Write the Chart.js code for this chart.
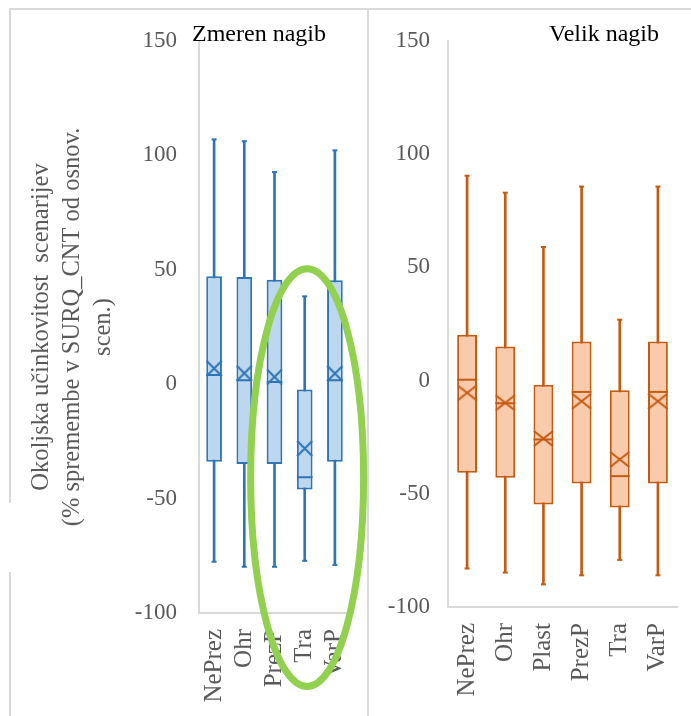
<!DOCTYPE html>
<html><head><meta charset="utf-8">
<script src="https://cdn.jsdelivr.net/npm/chart.js@4.4.1/dist/chart.umd.min.js"></script>
<style>
html,body{margin:0;padding:0;background:#fff;width:691px;height:716px;overflow:hidden;}
#wrap{position:relative;width:691px;height:716px;}
.ln{position:absolute;background:#d9d9d9;}
canvas{position:absolute;top:0;}
</style></head><body>
<div id="wrap">
<div class="ln" style="left:10px;top:8px;width:681px;height:2px"></div>
<div class="ln" style="left:9px;top:8px;width:2px;height:495px"></div>
<div class="ln" style="left:9px;top:572px;width:2px;height:144px"></div>
<div class="ln" style="left:367px;top:8px;width:2px;height:708px"></div>
<canvas id="c1" width="372" height="716" style="left:0"></canvas>
<canvas id="c2" width="323" height="716" style="left:368px"></canvas>
</div>
<script>
// ---- data: Zmeren nagib ----
const leftTitle = 'Zmeren nagib';
const leftCategories = ['NePrez', 'Ohr', 'PrezP', 'Tra', 'VarP'];
const leftMin    = [-77.6, -79.8, -79.8, -77.2, -79.0];
const leftQ1     = [-33.9, -34.9, -34.9, -46.0, -33.9];
const leftMedian = [4.0, 1.7, 1.0, -40.7, 1.7];
const leftMean   = [6.9, 4.8, 3.2, -28.1, 4.7];
const leftQ3     = [47.2, 46.9, 45.7, -2.3, 45.4];
const leftMax    = [107.0, 106.2, 92.7, 38.4, 102.2];

// ---- data: Velik nagib ----
const rightTitle = 'Velik nagib';
const rightCategories = ['NePrez', 'Ohr', 'Plast', 'PrezP', 'Tra', 'VarP'];
const rightMin    = [-83.0, -84.8, -90.0, -86.0, -79.2, -86.0];
const rightQ1     = [-40.7, -42.9, -54.7, -45.4, -56.1, -45.4];
const rightMedian = [0.4, -10.0, -26.0, -5.0, -42.2, -5.0];
const rightMean   = [-5.4, -9.8, -25.6, -9.1, -34.8, -9.1];
const rightQ3     = [20.3, 15.1, -1.8, 17.3, -4.3, 17.3];
const rightMax    = [90.5, 83.0, 59.0, 85.7, 26.9, 85.7];

// ---- axis ----
const yTicks = [-100, -50, 0, 50, 100, 150];
const yMin = -100, yMax = 150, yStep = 50;
const yAxisTitle = ['Okoljska učinkovitost  scenarijev', '(% spremembe v SURQ_CNT od osnov.', 'scen.)'];

// annotation ellipse around "Tra" (category index / value units)
const ellipseCenterCat = 3.08, ellipseCenterVal = -40.8, ellipseHalfCats = 1.87, ellipseHalfVal = 91.3;

const SERIF = '"Liberation Serif", "Times New Roman", serif';
const GRAY = '#595959';

function markerX(w, h, color) {
  const c = document.createElement('canvas');
  c.width = w + 2; c.height = h + 2;
  const g = c.getContext('2d');
  g.strokeStyle = color; g.lineWidth = 2;
  g.beginPath();
  g.moveTo(1, 1); g.lineTo(w + 1, h + 1);
  g.moveTo(w + 1, 1); g.lineTo(1, h + 1);
  g.stroke();
  return c;
}

const annot = {
  id: 'annot',
  afterDraw(chart, args, opts) {
    const ctx = chart.ctx;
    ctx.save();
    ctx.font = '24px ' + SERIF;
    ctx.fillStyle = '#000';
    ctx.textBaseline = 'middle';
    ctx.textAlign = 'left';
    ctx.fillText(opts.title, opts.titleX, opts.titleY);
    if (opts.ellipse) {
      const xs = chart.scales.x, ys = chart.scales.y;
      const cx = xs.getPixelForValue(ellipseCenterCat);
      const rx = xs.getPixelForValue(ellipseCenterCat + ellipseHalfCats) - cx;
      const cy = ys.getPixelForValue(ellipseCenterVal);
      const ry = ys.getPixelForValue(ellipseCenterVal - ellipseHalfVal) - cy;
      ctx.strokeStyle = '#92D050';
      ctx.lineWidth = 7;
      ctx.beginPath();
      ctx.ellipse(cx, cy, rx, ry, 0, 0, Math.PI * 2);
      ctx.stroke();
    }
    ctx.restore();
  }
};

function makeChart(id, s) {
  const edge = s.edge, fill = s.fill;
  return new Chart(document.getElementById(id), {
    type: 'bar',
    data: {
      labels: s.cats,
      datasets: [
        { type: 'bar', data: s.q1.map((v, i) => [v, s.q3[i]]), backgroundColor: fill, borderColor: edge,
          borderWidth: 2, borderSkipped: false, barPercentage: 0.52, categoryPercentage: 1, grouped: false, order: 2 },
        { type: 'bar', data: s.min.map((v, i) => [v, s.max[i]]), backgroundColor: edge, borderWidth: 0,
          barThickness: 2, grouped: false, order: 3 },
        { type: 'line', data: s.max, showLine: false, borderColor: edge, pointStyle: 'line', pointRadius: 2.5,
          pointBorderWidth: 2, pointBorderColor: edge, order: 1 },
        { type: 'line', data: s.min, showLine: false, borderColor: edge, pointStyle: 'line', pointRadius: 2.5,
          pointBorderWidth: 2, pointBorderColor: edge, order: 1 },
        { type: 'line', data: s.median, showLine: false, borderColor: edge, pointStyle: 'line', pointRadius: s.half,
          pointBorderWidth: 2, pointBorderColor: edge, order: 1 },
        { type: 'line', data: s.mean, showLine: false, borderColor: edge, pointStyle: markerX(s.xw, s.xh, edge),
          pointRadius: 8, order: 0 }
      ]
    },
    options: {
      responsive: false,
      animation: false,
      events: [],
      layout: { padding: { top: s.top, right: s.padRight, left: 0, bottom: 0 } },
      plugins: {
        legend: { display: false },
        tooltip: { enabled: false },
        annot: { title: s.title, titleX: s.titleX, titleY: 35, ellipse: s.ellipse }
      },
      scales: {
        x: {
          grid: { display: false, drawTicks: false },
          border: { display: true, color: '#d9d9d9', width: 2 },
          ticks: { autoSkip: false, minRotation: 90, maxRotation: 90, padding: 16, color: GRAY,
                   font: { family: SERIF, size: 25 } },
          afterFit(sc) { sc.height = s.xHeight; sc.paddingLeft = 0; sc.paddingRight = 0; }
        },
        y: {
          min: yMin, max: yMax,
          grid: { display: false, drawTicks: false },
          border: { display: true, color: '#d9d9d9', width: 2 },
          afterBuildTicks(sc) { sc.ticks = yTicks.map(v => ({ value: v })); },
          ticks: { stepSize: yStep, padding: s.yPad, color: GRAY, font: { family: SERIF, size: 23 } },
          title: s.axisTitle ? { display: true, text: yAxisTitle, color: GRAY, padding: { top: 26, bottom: 0 },
                   font: { family: SERIF, size: 24.5, lineHeight: 1.27 } } : { display: false },
          afterFit(sc) { sc.width = s.yWidth; sc.paddingTop = 0; sc.paddingBottom = 0; }
        }
      }
    },
    plugins: [annot]
  });
}

makeChart('c1', {
  cats: leftCategories, min: leftMin, q1: leftQ1, median: leftMedian, mean: leftMean, q3: leftQ3, max: leftMax,
  edge: '#2E75B6', fill: '#BDD7EE', half: 7.8, xw: 15, xh: 15,
  top: 41, padRight: 22, xHeight: 103, yWidth: 199, yPad: 22,
  title: leftTitle, titleX: 192, ellipse: true, axisTitle: true
});
makeChart('c2', {
  cats: rightCategories, min: rightMin, q1: rightQ1, median: rightMedian, mean: rightMean, q3: rightQ3, max: rightMax,
  edge: '#C55A11', fill: '#F8CBAD', half: 9.9, xw: 19, xh: 15,
  top: 41, padRight: 14, xHeight: 109, yWidth: 80, yPad: 18,
  title: rightTitle, titleX: 181, ellipse: false, axisTitle: false
});
</script>
</body></html>
